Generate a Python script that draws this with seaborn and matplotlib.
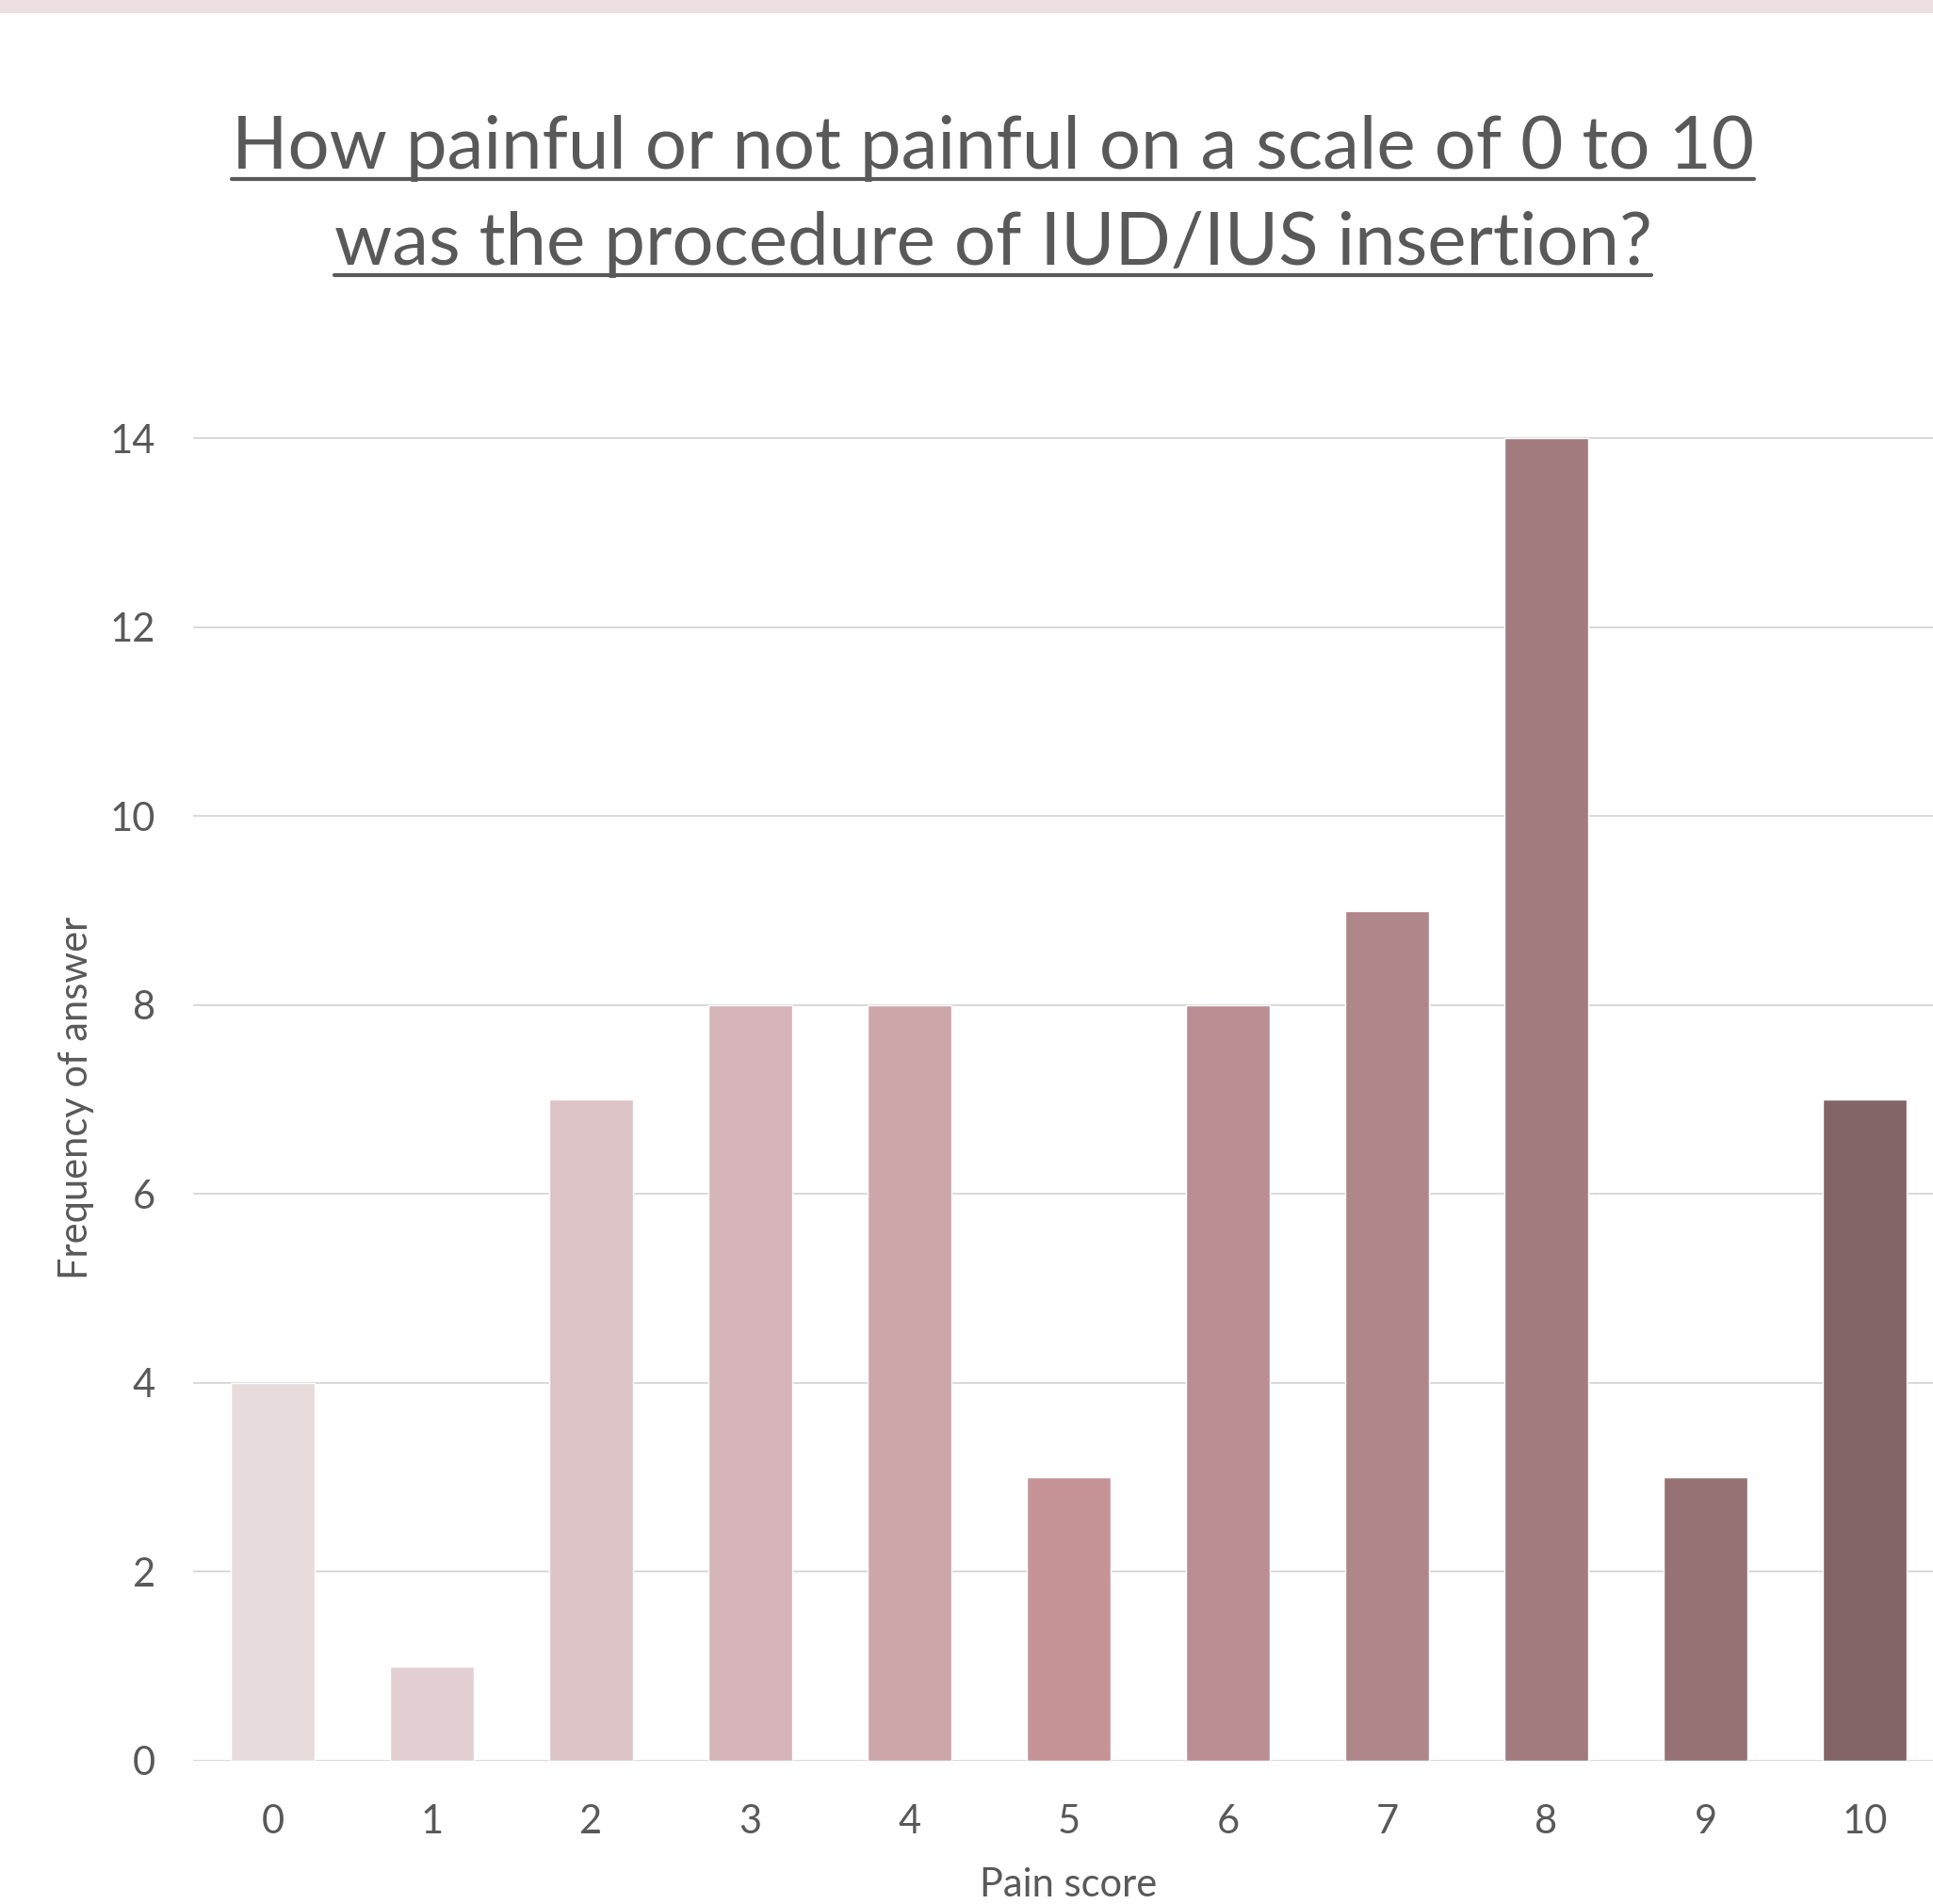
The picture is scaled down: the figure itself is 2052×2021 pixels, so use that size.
import matplotlib
matplotlib.use("Agg")
import matplotlib.pyplot as plt
import seaborn as sns
import pandas as pd
from matplotlib.lines import Line2D
from matplotlib.patches import Rectangle

# Survey results: pain score vs. number of respondents
pain_scores = ["0", "1", "2", "3", "4", "5", "6", "7", "8", "9", "10"]
frequencies = [4, 1, 7, 8, 8, 3, 8, 9, 14, 3, 7]
bar_colors = ["#E8DBDC", "#E3CFD1", "#DCC3C5", "#D5B5B9", "#CDA6AA", "#C69497",
              "#BB8E94", "#AF868A", "#A27B7E", "#967275", "#836467"]
y_ticks = [0, 2, 4, 6, 8, 10, 12, 14]
title_lines = ["How painful or not painful on a scale of 0 to 10",
               "was the procedure of IUD/IUS insertion?"]

sns.set_theme(style="white")
plt.rcParams["font.family"] = ["Lato", "DejaVu Sans"]
text_color = "#595959"
grid_color = "#D9D9D9"

W, H, DPI = 2052, 2021, 100
fig = plt.figure(figsize=(W / DPI, H / DPI), dpi=DPI)
fig.patch.set_facecolor("white")

# thin coloured band along the top edge
fig.patches.append(Rectangle((0, 1 - 14 / H), 1, 14 / H, transform=fig.transFigure,
                             facecolor="#ECE0E2", edgecolor="none", zorder=0))

ax = fig.add_axes([205 / W, 152 / H, 1859 / W, 1454 / H])
df = pd.DataFrame({"score": pain_scores, "freq": frequencies})
sns.barplot(data=df, x="score", y="freq", hue="score", palette=bar_colors,
            order=pain_scores, hue_order=pain_scores, legend=False,
            width=0.53, saturation=1, ax=ax, zorder=3)

ax.set_xlim(-0.5, 10.5)
ax.set_ylim(0, 14.5)
ax.set_yticks(y_ticks)
for y in y_ticks:
    ax.axhline(y, color=grid_color, lw=1.4, zorder=1)
for s in ax.spines.values():
    s.set_visible(False)
ax.tick_params(axis="both", length=0, labelsize=30, colors=text_color)
ax.tick_params(axis="y", pad=29)
ax.tick_params(axis="x", pad=33)

ax.set_xlabel("Pain score", fontsize=30, color=text_color)
ax.set_ylabel("Frequency of answer", fontsize=30, color=text_color)
ax.xaxis.set_label_coords(0.5, -0.0775)
ax.yaxis.set_label_coords(-0.0565, (1869 - 1165) / 1454)

# two-line underlined title
baselines = [179, 281]
target_width = 1616
renderer = fig.canvas.get_renderer()
texts = []
for line, base in zip(title_lines, baselines):
    t = fig.text(1054 / W, 1 - base / H, line, ha="center", va="baseline",
                 fontsize=56, color=text_color)
    texts.append(t)
# fit the first line to its width, apply same size to both
w0 = texts[0].get_window_extent(renderer).width
size = 56 * target_width / w0
for t in texts:
    t.set_fontsize(size)
fig.canvas.draw()
for t, base in zip(texts, baselines):
    bb = t.get_window_extent(renderer)
    uy = 1 - (base + 11) / H
    fig.lines.append(Line2D([bb.x0 / W, bb.x1 / W], [uy, uy], transform=fig.transFigure,
                            color=text_color, lw=3))

fig.savefig("out.png", dpi=DPI)
